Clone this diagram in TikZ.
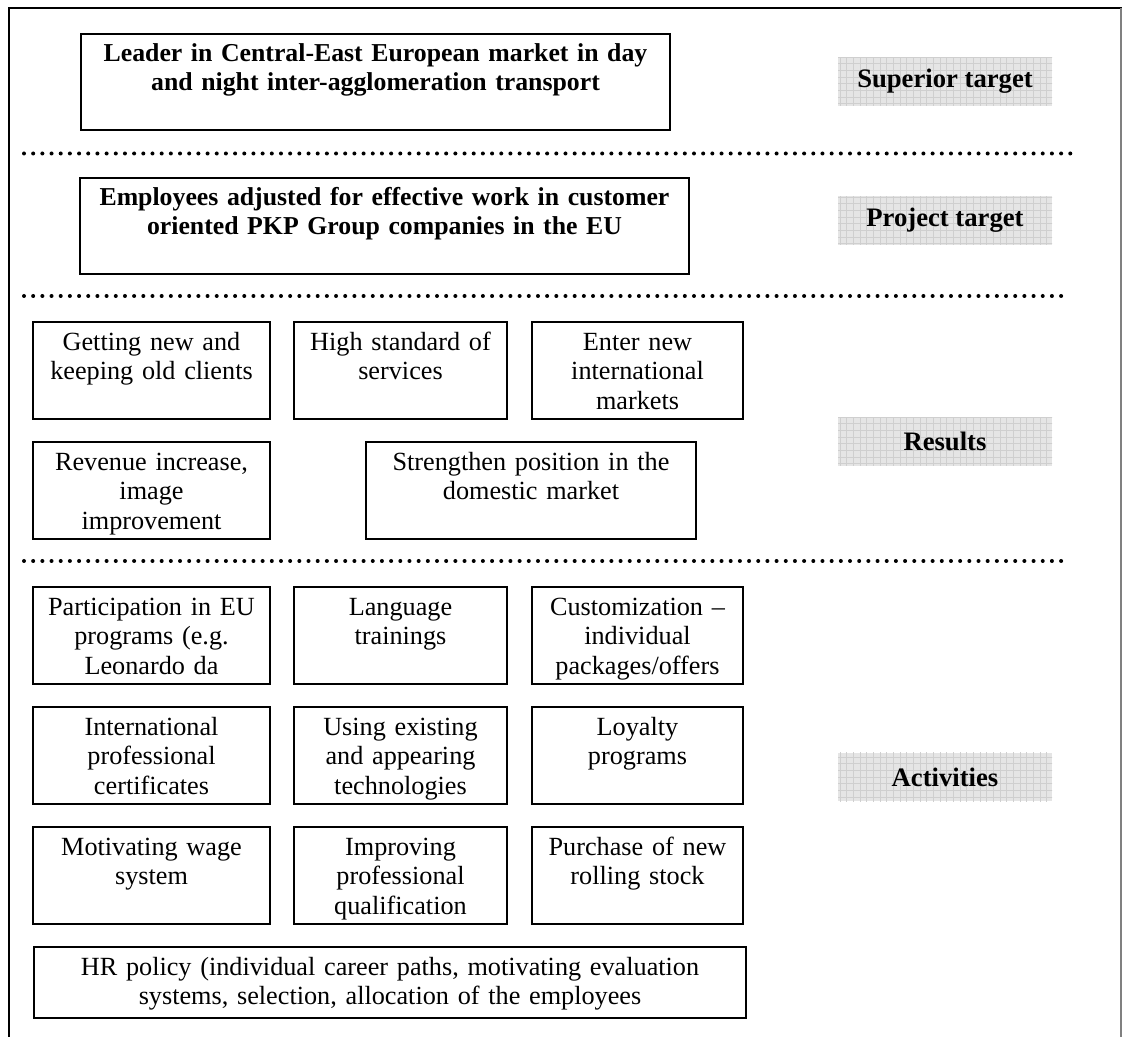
\documentclass[tikz,border=0pt]{standalone}
\usepackage{fontspec}
\setmainfont{Liberation Serif}
\usepackage{tikz}
\usetikzlibrary{patterns}

\begin{document}
\begin{tikzpicture}[
  x=0.45pt, y=-0.45pt,
  every node/.style = {font=\fontsize{11.8}{13.3}\selectfont},
  goalbox/.style = {rectangle, draw, line width=0.75pt, anchor=north,
                    align=center, inner xsep=2pt, inner ysep=3pt,
                    text height=9.5pt, text depth=27.7pt,
                    text width=#1,
                    font=\fontsize{11.6}{13.1}\selectfont\bfseries},
  cellbox/.style = {rectangle, draw, line width=0.75pt, anchor=north,
                    align=center, inner xsep=2pt, inner ysep=3pt,
                    text height=9.8pt, text depth=27.85pt,
                    text width=#1},
  tagbox/.style  = {rectangle, preaction={fill=gray!20},
                    pattern=grid, pattern color=gray!38,
                    minimum width=96.3pt, minimum height=22pt,
                    inner sep=0pt, font=\fontsize{12}{13.4}\selectfont\bfseries},
  sepline/.style = {line width=1.8pt, line cap=round,
                    dash pattern=on 0pt off 4.13pt},
]
\useasboundingbox (0,0) rectangle (1123,1037);

%% -- frame --
\draw[line width=1.1pt] (8,8) -- (1122,8);
\draw[line width=0.9pt] (9,8) -- (9,1037);
\draw[gray, line width=0.5pt] (1121,8) -- (1121,1037);

%% ══ SUPERIOR TARGET ══════════════════════════════════════════════
\node[goalbox=261pt] at (375.5,33) (superior) {
  Leader in Central-East European market in day\\
  and night inter-agglomeration transport};
\node[tagbox] at (945,81.5) (supertag) {Superior target};

\draw[sepline] (24,153.5) -- (1071,153.5);

%% ══ PROJECT TARGET ═══════════════════════════════════════════════
\node[goalbox=270pt] at (384.5,177) (project) {
  Employees adjusted for effective work in customer\\
  oriented PKP Group companies in the EU};
\node[tagbox] at (945,220.5) (projtag) {Project target};

\draw[sepline] (24,296) -- (1068,296);

%% ══ RESULTS ══════════════════════════════════════════════════════
\node[cellbox=102.6pt] at (151.5,321) (clients) {Getting new and\\keeping old clients};
\node[cellbox=91.8pt]  at (400.5,321) (standard) {High standard of\\services};
\node[cellbox=90.9pt]  at (637.5,321) (markets) {Enter new\\international\\markets};
\node[cellbox=102.6pt] at (151.5,441) (revenue) {Revenue increase,\\image\\improvement};
\node[cellbox=144.5pt] at (531,441) (domestic) {Strengthen position in the\\domestic market};
\node[tagbox] at (945,441.5) (restag) {Results};

\draw[sepline] (24,561) -- (1068,561);

%% ══ ACTIVITIES ═══════════════════════════════════════════════════
\node[cellbox=102.6pt] at (151.5,586) (euprog) {Participation in EU\\programs (e.g.\\Leonardo da};
\node[cellbox=91.8pt]  at (400.5,586) (language) {Language\\trainings};
\node[cellbox=90.9pt]  at (637.5,586) (custom) {Customization --\\individual\\packages/offers};

\node[cellbox=102.6pt] at (151.5,706) (certif) {International\\professional\\certificates};
\node[cellbox=91.8pt]  at (400.5,706) (techno) {Using existing\\and appearing\\technologies};
\node[cellbox=90.9pt]  at (637.5,706) (loyalty) {Loyalty\\programs};

\node[cellbox=102.6pt] at (151.5,826) (wage) {Motivating wage\\system};
\node[cellbox=91.8pt]  at (400.5,826) (qualif) {Improving\\professional\\qualification};
\node[cellbox=90.9pt]  at (637.5,826) (stock) {Purchase of new\\rolling stock};

\node[cellbox=316.4pt, text depth=16.2pt] at (390,946) (hrpolicy) {
  HR policy (individual career paths, motivating evaluation\\
  systems, selection, allocation of the employees};
\node[tagbox] at (945,777) (acttag) {Activities};

\end{tikzpicture}
\end{document}
